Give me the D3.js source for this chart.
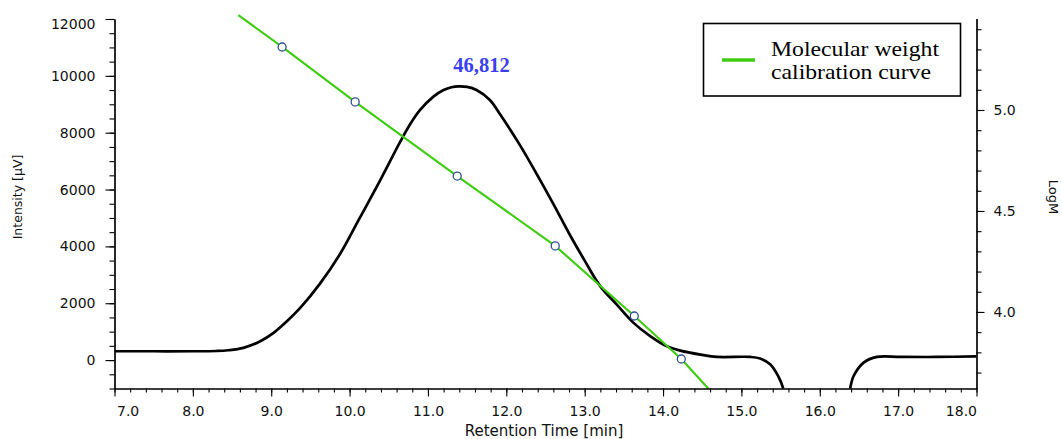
<!DOCTYPE html>
<html>
<head>
<meta charset="utf-8">
<script src="https://cdn.jsdelivr.net/npm/d3@7"></script>
<style>
  html, body { margin: 0; padding: 0; background: #fff; }
  svg { display: block; }
  .tick text { font-family: "DejaVu Sans", sans-serif; font-size: 14px; fill: #111; }
</style>
</head>
<body>
<svg id="chart" width="1062" height="439"></svg>
<script>
// ---------------- data ----------------
const timeTicks = [7, 8, 9, 10, 11, 12, 13, 14, 15, 16, 17, 18];
const timeTickLabels = ["7.0", "8.0", "9.0", "10.0", "11.0", "12.0", "13.0", "14.0", "15.0", "16.0", "17.0", "18.0"];
const intensityTicks = [0, 2000, 4000, 6000, 8000, 10000, 12000];
const logMTicks = [4.0, 4.5, 5.0];
const logMTickLabels = ["4.0", "4.5", "5.0"];

// chromatogram (retention time [min], intensity [µV])
const chromTime = [7.00, 7.50, 8.00, 8.30, 8.45, 8.645, 8.86, 9.03, 9.20, 9.37, 9.62, 9.88, 10.13, 10.39, 10.65, 10.78, 10.90, 11.07, 11.20, 11.30, 11.39, 11.50, 11.62, 11.79, 11.92, 12.17, 12.43, 12.62, 12.81, 13.00, 13.20, 13.41, 13.62, 13.84, 14.05, 14.22, 14.48, 14.69, 15.11, 15.24, 15.37, 15.47, 15.53, 15.58, 16.34, 16.39, 16.43, 16.56, 16.73, 17.03, 17.50, 18.00];
const chromIntensity = [310, 310, 310, 320, 345, 428, 661, 956, 1363, 1834, 2680, 3740, 5000, 6320, 7700, 8330, 8800, 9270, 9500, 9600, 9630, 9610, 9500, 9150, 8650, 7580, 6340, 5390, 4410, 3500, 2593, 1950, 1318, 836, 485, 334, 193, 112, 112, 53, -158, -569, -966, -1800, -1800, -966, -569, -88, 112, 112, 110, 130];

// molecular weight calibration curve (retention time, LogM)
const calTime = [8.58, 9.139, 10.071, 11.373, 12.624, 13.633, 14.233, 14.58];
const calLogM = [5.47, 5.312, 5.040, 4.673, 4.327, 3.980, 3.767, 3.62];
// calibration standards (circles)
const stdTime = [9.139, 10.071, 11.373, 12.624, 13.633, 14.233];
const stdLogM = [5.312, 5.040, 4.673, 4.327, 3.980, 3.767];

const peakTime = 11.39;
const peakIntensity = 9630;
const peakLabel = "46,812";
const legendLabel = ["Molecular weight", "calibration curve"];

// ---------------- layout ----------------
const padL = 114.5, padR = 976.5, padT = 18.5, padB = 388.5;
const svg = d3.select("#chart");

const x = d3.scaleLinear().domain([7, 18]).range([padL, padR]);
const yI = d3.scaleLinear().domain([-1000, 12000]).range([padB, 19]);
const yM = d3.scaleLinear().domain([3.621, 5.453]).range([padB, padT]);

svg.append("defs").append("clipPath").attr("id", "clip")
  .append("rect").attr("x", padL).attr("y", 0).attr("width", padR - padL).attr("height", padB);

// ---------------- curves ----------------
const chromData = chromTime.map((t, i) => [t, chromIntensity[i]]);
const chromLine = d3.line().x(d => x(d[0])).y(d => yI(d[1])).curve(d3.curveCatmullRom.alpha(0.5));
svg.append("path")
  .attr("clip-path", "url(#clip)")
  .attr("d", chromLine(chromData))
  .attr("fill", "none").attr("stroke", "#000").attr("stroke-width", 2.7)
  .attr("stroke-linejoin", "round");

const calData = calTime.map((t, i) => [t, calLogM[i]]);
const calLine = d3.line().x(d => x(d[0])).y(d => yM(d[1]));
svg.append("path")
  .attr("d", calLine(calData))
  .attr("fill", "none").attr("stroke", "#3fcc12").attr("stroke-width", 2.2);

svg.selectAll("circle.std").data(stdTime.map((t, i) => [t, stdLogM[i]])).enter()
  .append("circle").attr("class", "std")
  .attr("cx", d => x(d[0])).attr("cy", d => yM(d[1])).attr("r", 4)
  .attr("fill", "#fff").attr("stroke", "#2f4f94").attr("stroke-width", 1.3);

// ---------------- axes ----------------
function styleAxis(g) {
  g.select(".domain").attr("stroke", "#000").attr("stroke-width", 1.2);
  g.selectAll(".tick line").attr("stroke", "#000").attr("stroke-width", 1.1);
}

// bottom
const minorTime = d3.range(7, 18.0001, 0.2).map(v => +v.toFixed(2));
svg.append("g").attr("transform", `translate(0,${padB})`)
  .call(d3.axisBottom(x).tickValues(minorTime).tickSize(4).tickFormat("").tickSizeOuter(0))
  .call(styleAxis);
const gx = svg.append("g").attr("transform", `translate(0,${padB})`)
  .call(d3.axisBottom(x).tickValues(timeTicks).tickSize(8).tickPadding(10).tickSizeOuter(0)
    .tickFormat((d, i) => timeTickLabels[i]))
  .call(styleAxis);
gx.selectAll(".tick text")
  .attr("text-anchor", (d, i) => i === 0 ? "start" : (i === timeTicks.length - 1 ? "end" : "middle"))
  .attr("dx", (d, i) => i === 0 ? 2 : 0);

// left
const minorI = d3.range(-1000, 12000.1, 500);
svg.append("g").attr("transform", `translate(${padL},0)`)
  .call(d3.axisLeft(yI).tickValues(minorI).tickSize(5).tickFormat("").tickSizeOuter(0))
  .call(styleAxis);
const gy = svg.append("g").attr("transform", `translate(${padL},0)`)
  .call(d3.axisLeft(yI).tickValues(intensityTicks).tickSize(9).tickPadding(10).tickSizeOuter(0)
    .tickFormat(d => String(d)))
  .call(styleAxis);
gy.selectAll(".tick text").filter(d => d === 12000).attr("dy", "0.7em");

// right
const minorM = d3.range(3.7, 5.45, 0.1).map(v => +v.toFixed(2));
svg.append("g").attr("transform", `translate(${padR},0)`)
  .call(d3.axisRight(yM).tickValues(minorM).tickSize(5).tickFormat("").tickSizeOuter(0))
  .call(styleAxis);
svg.append("g").attr("transform", `translate(${padR},0)`)
  .call(d3.axisRight(yM).tickValues(logMTicks).tickSize(8).tickPadding(9).tickSizeOuter(0)
    .tickFormat((d, i) => logMTickLabels[i]))
  .call(styleAxis);

// axis titles
const titleFont = "DejaVu Sans, sans-serif";
svg.append("text")
  .attr("x", 544).attr("y", 436)
  .attr("text-anchor", "middle").attr("font-family", titleFont).attr("font-size", 15).attr("fill", "#111")
  .text("Retention Time [min]");
svg.append("text")
  .attr("transform", "translate(22,197) rotate(-90)")
  .attr("text-anchor", "middle").attr("font-family", titleFont).attr("font-size", 12.5).attr("fill", "#111")
  .text("Intensity [µV]");
svg.append("text")
  .attr("transform", "translate(1049,197) rotate(90)")
  .attr("text-anchor", "middle").attr("font-family", titleFont).attr("font-size", 13).attr("fill", "#111")
  .text("LogM");

// peak label
svg.append("text")
  .attr("x", x(peakTime) + 23).attr("y", yI(peakIntensity) - 14)
  .attr("text-anchor", "middle")
  .attr("font-family", "Liberation Serif, serif").attr("font-weight", "bold").attr("font-size", 20.5)
  .attr("fill", "#3a40f0")
  .text(peakLabel);

// legend
const lg = svg.append("g");
lg.append("rect").attr("x", 703.5).attr("y", 23.5).attr("width", 257).attr("height", 72.5)
  .attr("fill", "#fff").attr("stroke", "#000").attr("stroke-width", 1.6);
lg.append("line").attr("x1", 722).attr("x2", 755).attr("y1", 60).attr("y2", 60)
  .attr("stroke", "#3fcc12").attr("stroke-width", 3.3);
const legendWidths = [168, 160];
lg.selectAll("text.lg").data(legendLabel).enter().append("text")
  .attr("x", 771).attr("y", (d, i) => 55.5 + i * 23.5)
  .attr("font-family", "Liberation Serif, serif").attr("font-size", 21).attr("fill", "#000")
  .attr("textLength", (d, i) => legendWidths[i]).attr("lengthAdjust", "spacingAndGlyphs")
  .text(d => d);
</script>
</body>
</html>
